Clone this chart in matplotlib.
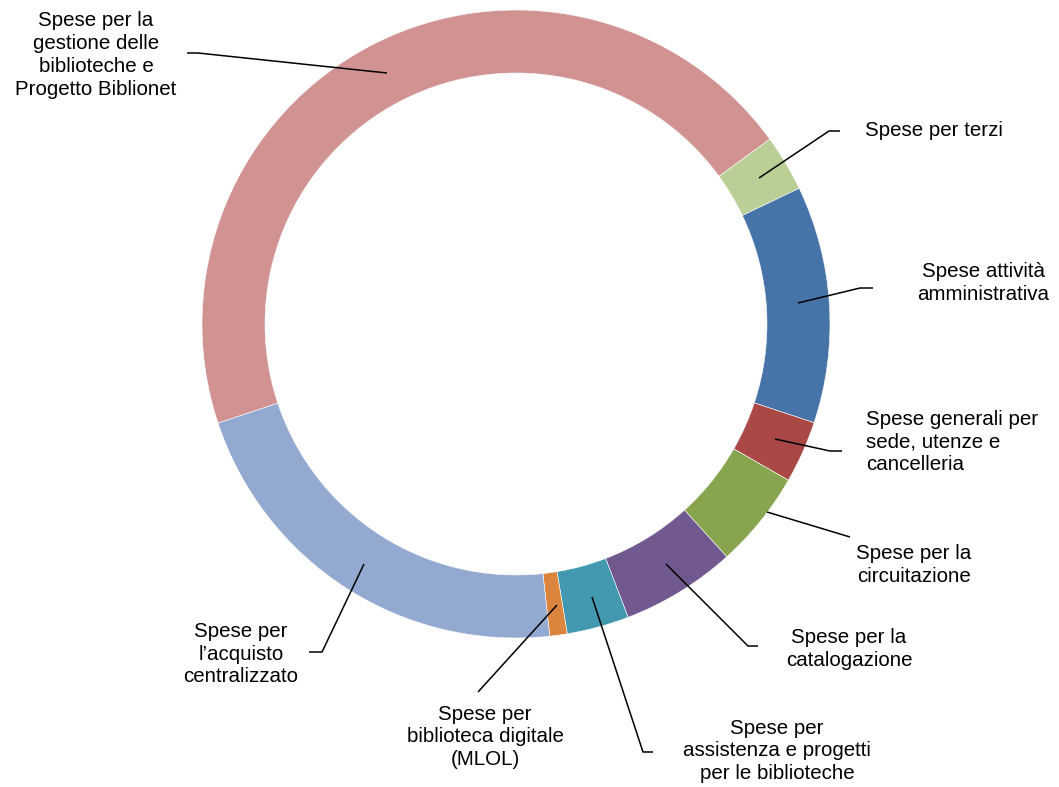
import matplotlib
matplotlib.use("Agg")
import matplotlib.pyplot as plt

categories = [
    "Spese per la\ngestione delle\nbiblioteche e\nProgetto Biblionet",
    "Spese per terzi",
    "Spese attività\namministrativa",
    "Spese generali per\nsede, utenze e\ncancelleria",
    "Spese per la\ncircuitazione",
    "Spese per la\ncatalogazione",
    "Spese per\nassistenza e progetti\nper le biblioteche",
    "Spese per\nbiblioteca digitale\n(MLOL)",
    "Spese per\nl\u2019acquisto\ncentralizzato",
]
values = [45.1, 2.9, 12.2, 3.2, 5.0, 5.9, 3.2, 0.9, 21.6]
colors = ["#D09392", "#B9CF96", "#4673A8", "#A94845", "#87A54E",
          "#71588F", "#4198AF", "#DB843D", "#94A9CF"]

W, H = 1059, 787
fig = plt.figure(figsize=(W / 100, H / 100), dpi=100)
ax = fig.add_axes([0, 0, 1, 1])

def Y(y):
    return H - y

cx, cy, R, ring = 516, 324, 314, 63
ax.pie(values, colors=colors, startangle=198.4, counterclock=False,
       center=(cx, Y(cy)), radius=R,
       wedgeprops=dict(width=ring, edgecolor="white", linewidth=0.4))

# leader lines (pixel coordinates) and label layout
leaders = [
    [(387, 73), (198, 53), (187, 53)],
    [(759, 178), (829, 131), (840, 131)],
    [(798, 303), (860, 288), (873, 288)],
    [(775, 439), (830, 451), (842, 451)],
    [(767, 512), (850, 537)],
    [(666, 564), (748, 646), (758, 646)],
    [(592, 597), (643, 752), (653, 752)],
    [(557, 605), (478, 692)],
    [(364, 564), (322, 652), (309, 652)],
]
label_pos = [
    (96, 55, "center"),
    (865, 131, "left"),
    (983, 283, "center"),
    (866, 442, "left"),
    (914, 565, "center"),
    (849, 649, "center"),
    (777, 751, "center"),
    (485, 737, "center"),
    (241, 654, "center"),
]

for pts in leaders:
    ax.plot([p[0] for p in pts], [Y(p[1]) for p in pts], color="black",
            lw=1.1, solid_capstyle="butt")

for text, (x, y, ha) in zip(categories, label_pos):
    ax.text(x, Y(y), text, ha=ha, va="center", multialignment=ha,
            fontsize=14.8, family="Liberation Sans", linespacing=1.26)

ax.set_xlim(0, W)
ax.set_ylim(0, H)
ax.set_aspect("equal")
ax.axis("off")
fig.savefig("out.png", dpi=100, facecolor="white")
